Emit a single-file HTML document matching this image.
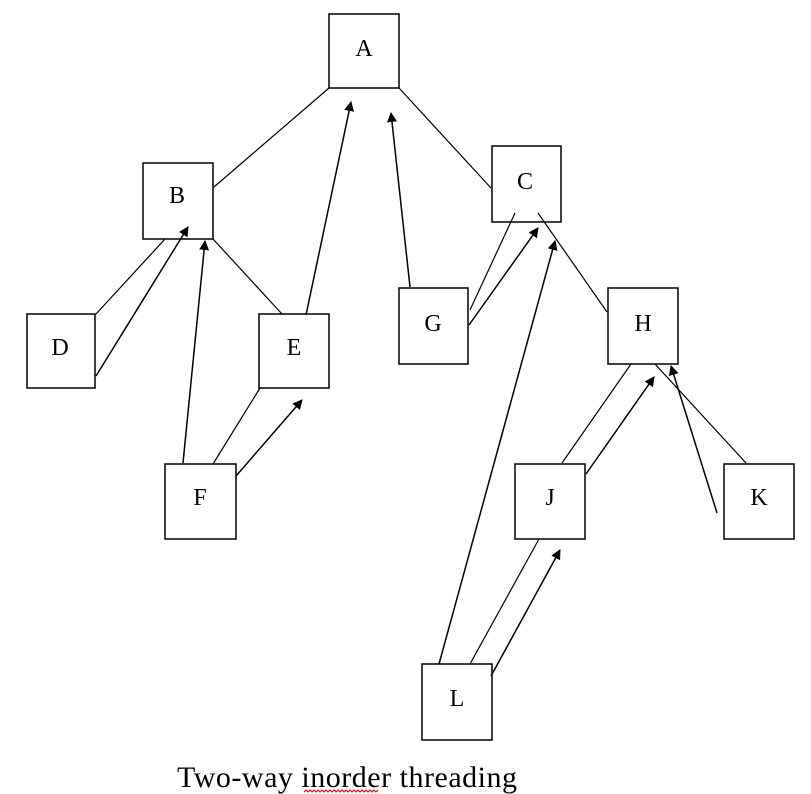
<!DOCTYPE html>
<html><head><meta charset="utf-8"><style>
html,body{margin:0;padding:0;background:#fff;}
svg{display:block;}
text{font-family:"Liberation Serif",serif;}
</style></head><body>
<svg width="811" height="794" viewBox="0 0 811 794" xmlns="http://www.w3.org/2000/svg">
<defs>
<marker id="ar" markerWidth="10" markerHeight="10" refX="9" refY="5" orient="auto" markerUnits="userSpaceOnUse">
<path d="M0,0 L10,5 L0,10 z" fill="#000"/>
</marker>
</defs>
<g fill="#fff" stroke="#000" stroke-width="1.5">
<rect x="329" y="14" width="70" height="74"/>
<rect x="143" y="163" width="70" height="76"/>
<rect x="492" y="146" width="69" height="76"/>
<rect x="27" y="314" width="68" height="74"/>
<rect x="259" y="314" width="70" height="74"/>
<rect x="399" y="288" width="69" height="76"/>
<rect x="608" y="288" width="70" height="76"/>
<rect x="165" y="464" width="71" height="75"/>
<rect x="515" y="464" width="70" height="75"/>
<rect x="724" y="464" width="70" height="75"/>
<rect x="422" y="664" width="70" height="76"/>
</g>
<g stroke="#000" stroke-width="1.2" fill="none">
<line x1="329" y1="88" x2="214" y2="187"/>
<line x1="399" y1="88" x2="491" y2="188"/>
<line x1="96" y1="314" x2="165" y2="239"/>
<line x1="213" y1="239" x2="282" y2="314"/>
<line x1="515" y1="213" x2="470" y2="310"/>
<line x1="538" y1="213" x2="607" y2="312"/>
<line x1="631" y1="364" x2="562" y2="463"/>
<line x1="655" y1="364" x2="746" y2="463"/>
<line x1="213" y1="464" x2="260" y2="388"/>
<line x1="539" y1="539" x2="470" y2="664"/>
</g>
<g stroke="#000" stroke-width="1.5" fill="none" marker-end="url(#ar)">
<line x1="96" y1="376" x2="188" y2="227"/>
<line x1="183" y1="463" x2="205" y2="241"/>
<line x1="306" y1="315" x2="351" y2="102"/>
<line x1="410" y1="287" x2="391" y2="113"/>
<line x1="469" y1="325" x2="538" y2="228"/>
<line x1="439" y1="664" x2="555" y2="241"/>
<line x1="236" y1="476" x2="302" y2="400"/>
<line x1="586" y1="474" x2="654" y2="377"/>
<line x1="717" y1="513" x2="671" y2="366"/>
<line x1="491" y1="676" x2="560" y2="550"/>
</g>
<g font-size="24" text-anchor="middle" fill="#000">
<text x="364" y="56">A</text>
<text x="177" y="203">B</text>
<text x="525" y="189">C</text>
<text x="60" y="355">D</text>
<text x="294" y="355">E</text>
<text x="433" y="331">G</text>
<text x="643" y="331">H</text>
<text x="200" y="505">F</text>
<text x="550" y="505">J</text>
<text x="759" y="505">K</text>
<text x="457" y="706">L</text>
</g>
<text x="177" y="787" font-size="30" textLength="340" fill="#000">Two-way inorder threading</text>
<path d="M304,792 l2,-2 l2,2 l2,-2 l2,2 l2,-2 l2,2 l2,-2 l2,2 l2,-2 l2,2 l2,-2 l2,2 l2,-2 l2,2 l2,-2 l2,2 l2,-2 l2,2 l2,-2 l2,2 l2,-2 l2,2 l2,-2 l2,2 l2,-2 l2,2 l2,-2 l2,2 l2,-2 l2,2 l2,-2 l2,2 l2,-2 l2,2 l2,-2 l2,2 l2,-2" stroke="#e00" stroke-width="1" fill="none"/>
</svg>
</body></html>
